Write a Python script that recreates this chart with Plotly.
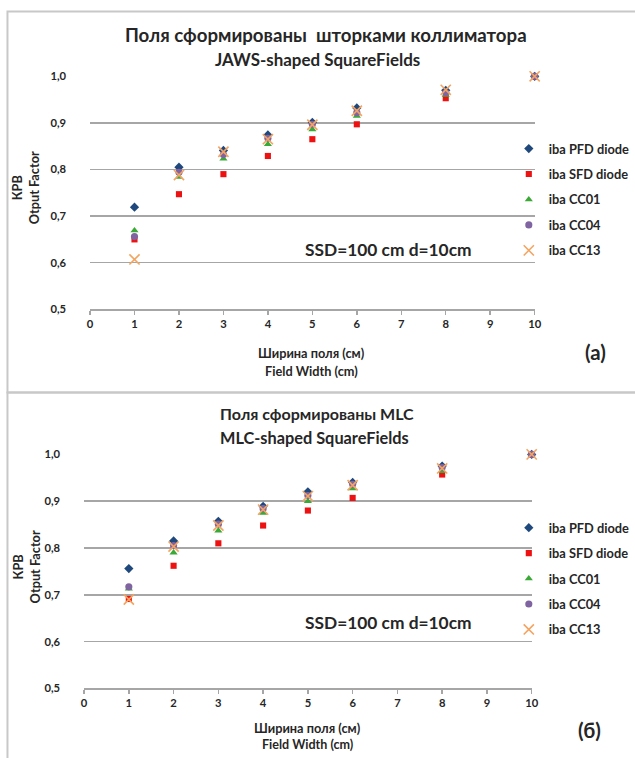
import plotly.graph_objects as go

# The page margin is removed (post_script) so the figure fills the 635x758 window.
# The photographed page was observed to be slightly compressed (~2%), so layout
# pixel targets are pre-compensated.
W, H = 635, 758
S = 0.98            # observed scale of the photographed page
AX, AY = 2.5, 6.6   # observed offsets (x, y)

# ---------------- data ----------------
field_width = [1, 2, 3, 4, 5, 6, 8, 10]
series_names = ["iba PFD diode", "iba SFD diode", "iba CC01", "iba CC04", "iba CC13"]

# (a) JAWS-shaped square fields
jaws_pfd = [0.719, 0.805, 0.841, 0.874, 0.901, 0.932, 0.970, 1.000]
jaws_sfd = [0.650, 0.747, 0.790, 0.829, 0.865, 0.897, 0.953, 1.000]
jaws_cc01 = [0.669, 0.784, 0.823, 0.854, 0.886, 0.915, 0.960, 1.000]
jaws_cc04 = [0.656, 0.794, 0.832, 0.867, 0.897, 0.922, 0.965, 1.000]
jaws_cc13 = [0.607, 0.788, 0.838, 0.865, 0.896, 0.926, 0.971, 1.000]

# (б) MLC-shaped square fields
mlc_pfd = [0.756, 0.815, 0.857, 0.889, 0.920, 0.940, 0.975, 1.000]
mlc_sfd = [0.691, 0.762, 0.810, 0.848, 0.880, 0.907, 0.957, 1.000]
mlc_cc01 = [0.713, 0.790, 0.837, 0.875, 0.900, 0.927, 0.964, 1.000]
mlc_cc04 = [0.717, 0.805, 0.851, 0.884, 0.912, 0.936, 0.972, 1.000]
mlc_cc13 = [0.690, 0.803, 0.848, 0.882, 0.911, 0.934, 0.970, 1.000]

x_ticks = list(range(0, 11))
y_ticks = [0.5, 0.6, 0.7, 0.8, 0.9, 1.0]

# ---------------- styles ----------------
FONT = "Lato"
TXT = "#262626"
GRID = "#a6a6a6"


def fs(v):
    return v / S


styles = [
    dict(symbol="diamond", color="#1f497d", size=fs(7)),
    dict(symbol="square", color="#ee1111", size=fs(6)),
    dict(symbol="triangle-up", color="#3aa935", size=fs(7)),
    dict(symbol="circle", color="#8064a2", size=fs(7)),
    dict(symbol="x-thin", color="#f4a460", size=fs(10)),
]


def px_x(t):
    return ((t - AX) / S) / W


def px_y(t):
    return (H - (t - AY) / S) / H


fig = go.Figure()

panels = [
    ("x", "y", "legend", [jaws_pfd, jaws_sfd, jaws_cc01, jaws_cc04, jaws_cc13], "a"),
    ("x2", "y2", "legend2", [mlc_pfd, mlc_sfd, mlc_cc01, mlc_cc04, mlc_cc13], "b"),
]
for xa, ya, leg, data, tag in panels:
    for name, vals, st in zip(series_names, data, styles):
        if st["symbol"] == "x-thin":
            marker = dict(symbol="x-thin", size=st["size"],
                          line=dict(color=st["color"], width=1.6), color=st["color"])
        else:
            marker = dict(symbol=st["symbol"], size=st["size"], color=st["color"],
                          line=dict(width=0))
        fig.add_trace(go.Scatter(
            x=field_width, y=vals, mode="markers", name=name, marker=marker,
            xaxis=xa, yaxis=ya, legend=leg, legendgroup=tag + name,
            cliponaxis=False, showlegend=True,
        ))

xaxis_common = dict(
    range=[0, 10], tickmode="array", tickvals=x_ticks, showgrid=False,
    zeroline=False, showline=True, linecolor=GRID, linewidth=1.5,
    ticks="outside", ticklen=4, tickcolor=GRID, tickwidth=1.5,
    tickfont=dict(family=FONT, size=fs(11), color=TXT, weight="bold"),
    fixedrange=True,
)
yaxis_common = dict(
    range=[0.5, 1.0], tickmode="array", tickvals=y_ticks, tickformat=".1f",
    showgrid=True, gridcolor=GRID, gridwidth=1.6, zeroline=False,
    showline=False, ticks="", ticklabelstandoff=23,
    tickfont=dict(family=FONT, size=fs(11), color=TXT, weight="bold"),
    fixedrange=True,
)

fig.update_layout(
    width=W, height=H,
    margin=dict(l=0, r=0, t=0, b=0),
    paper_bgcolor="white", plot_bgcolor="white",
    separators=", ",
    font=dict(family=FONT, color=TXT),
    xaxis=dict(domain=[px_x(90), px_x(537)], anchor="y", **xaxis_common),
    yaxis=dict(domain=[px_y(308), px_y(75.7)], anchor="x", **yaxis_common),
    xaxis2=dict(domain=[px_x(84), px_x(534)], anchor="y2", **xaxis_common),
    yaxis2=dict(domain=[px_y(686), px_y(452.7)], anchor="x2", **yaxis_common),
)

leg_common = dict(
    xanchor="left", yanchor="top", bgcolor="rgba(0,0,0,0)",
    font=dict(family=FONT, size=12.8, color=TXT, weight="bold"),
    traceorder="grouped", tracegroupgap=5.8, itemclick=False, itemdoubleclick=False,
)
fig.update_layout(
    legend=dict(x=px_x(511), y=px_y(133), **leg_common),
    legend2=dict(x=px_x(511), y=px_y(511), **leg_common),
)

# frames
fig.add_shape(type="rect", xref="paper", yref="paper",
              x0=px_x(7), x1=1.05, y0=px_y(391), y1=px_y(11),
              line=dict(color="#c8c8c8", width=2), layer="below")
fig.add_shape(type="rect", xref="paper", yref="paper",
              x0=px_x(7), x1=1.05, y0=-0.05, y1=px_y(391),
              line=dict(color="#c8c8c8", width=2), layer="below")


def ann(text, x, y, size, **kw):
    fig.add_annotation(text=text, x=px_x(x), y=px_y(y), xref="paper", yref="paper",
                       showarrow=False, xanchor=kw.pop("xanchor", "center"),
                       yanchor="middle",
                       font=dict(family=FONT, size=fs(size), color=TXT, weight="bold"), **kw)


# panel (a)
ann("Поля сформированы  шторками коллиматора", 327, 35, 18.3)
ann("JAWS-shaped SquareFields", 319, 59, 16.6)
ann("Ширина поля (см)", 313, 352, 12.5)
ann("Field Width (cm)", 313, 370, 12.5)
ann("(a)", 598, 351, 20)
ann("SSD=100 cm d=10cm", 390, 248, 17)
ann("КРВ<br>Otput Factor", 26, 187, 12.5, textangle=-90)

# panel (б)
ann("Поля сформированы MLC", 318, 412, 15.7)
ann("MLC-shaped SquareFields", 316, 436, 16)
ann("Ширина поля (см)", 309, 726, 12.5)
ann("Field Width (cm)", 309, 742, 12.3)
ann("(б)", 592, 728, 20)
ann("SSD=100 cm d=10cm", 390, 620, 17)
ann("КРВ<br>Otput Factor", 26, 565, 12.5, textangle=-90)

fig.write_html(
    "out.html",
    config=dict(displayModeBar=False, staticPlot=True),
    post_script="document.body.style.margin='0';document.body.style.padding='0';"
                "document.documentElement.style.overflow='hidden';",
)
